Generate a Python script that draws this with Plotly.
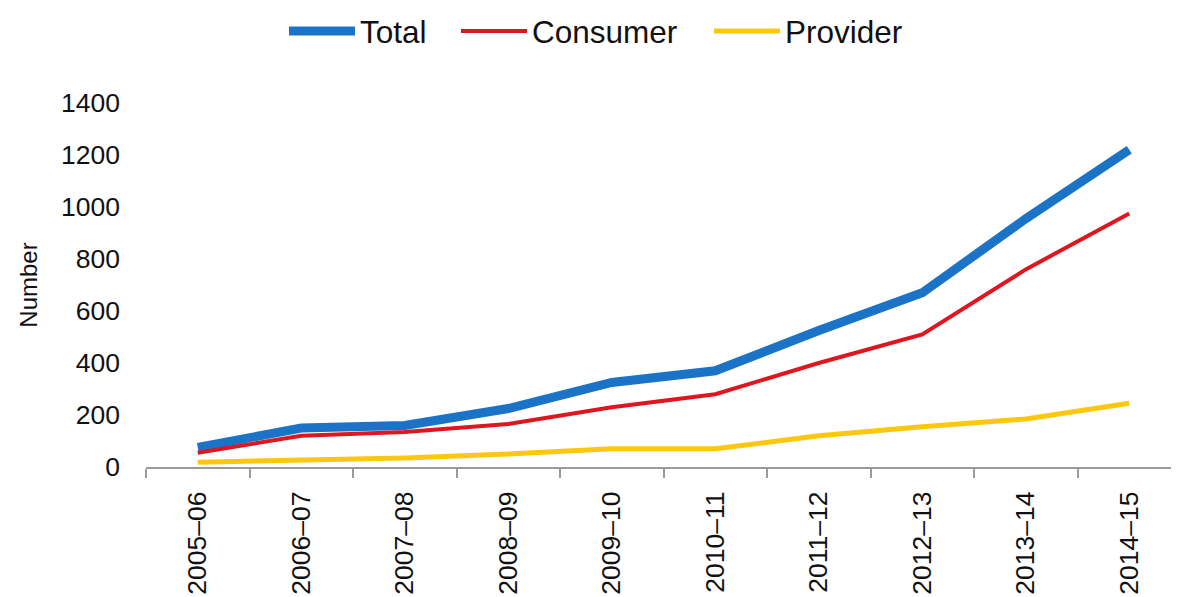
import plotly.graph_objects as go

years = ["2005\u201306", "2006\u201307", "2007\u201308", "2008\u201309", "2009\u201310",
         "2010\u201311", "2011\u201312", "2012\u201313", "2013\u201314", "2014\u201315"]
total = [75, 150, 160, 225, 325, 370, 525, 670, 955, 1220]
consumer = [55, 120, 135, 165, 230, 280, 400, 510, 760, 975]
provider = [18, 28, 35, 50, 70, 70, 120, 155, 185, 245]

FONT = "Liberation Sans, Arial, sans-serif"
W, H = 1179, 597
OFF = 8  # page body margin

fig = go.Figure()
fig.add_trace(go.Scatter(x=years, y=total, name="Total", mode="lines",
                         line=dict(color="#1A73C7", width=9), legend="legend"))
fig.add_trace(go.Scatter(x=years, y=consumer, name="Consumer", mode="lines",
                         line=dict(color="#E0161F", width=4), legend="legend2"))
fig.add_trace(go.Scatter(x=years, y=provider, name="Provider", mode="lines",
                         line=dict(color="#FDC70E", width=5), legend="legend3"))

def leg(xpx):
    return dict(orientation="h", x=(xpx - 5 - OFF) / W, xanchor="left", xref="container",
                y=1 - (31 - OFF) / H, yanchor="middle", yref="container",
                font=dict(family=FONT, size=31.5, color="#111111"), itemwidth=66,
                bgcolor="rgba(0,0,0,0)")

fig.update_layout(
    width=W, height=H,
    margin=dict(l=146 - OFF, r=6, t=103 - OFF, b=H - (467 - OFF)),
    paper_bgcolor="white", plot_bgcolor="white",
    font=dict(family=FONT, color="#111111", size=26),
    showlegend=True,
    legend=leg(289), legend2=leg(461), legend3=leg(714),
    xaxis=dict(
        type="category", range=[-0.5, 9.5], automargin=False,
        showline=True, linecolor="#9A9A9A", linewidth=2,
        ticks="outside", tickson="boundaries", ticklen=9, tickcolor="#9A9A9A", tickwidth=2,
        tickangle=-90, tickfont=dict(size=26.5), showgrid=False, zeroline=False,
        ticklabelstandoff=12,
    ),
    yaxis=dict(
        range=[0, 1400], tickvals=[0, 200, 400, 600, 800, 1000, 1200, 1400],
        automargin=False,
        showline=False, showgrid=False, zeroline=False, ticks="",
        tickfont=dict(size=26.5), ticklabelstandoff=25,
        title=dict(text="Number", font=dict(size=24), standoff=16),
    ),
)

fig.write_html("out.html")
